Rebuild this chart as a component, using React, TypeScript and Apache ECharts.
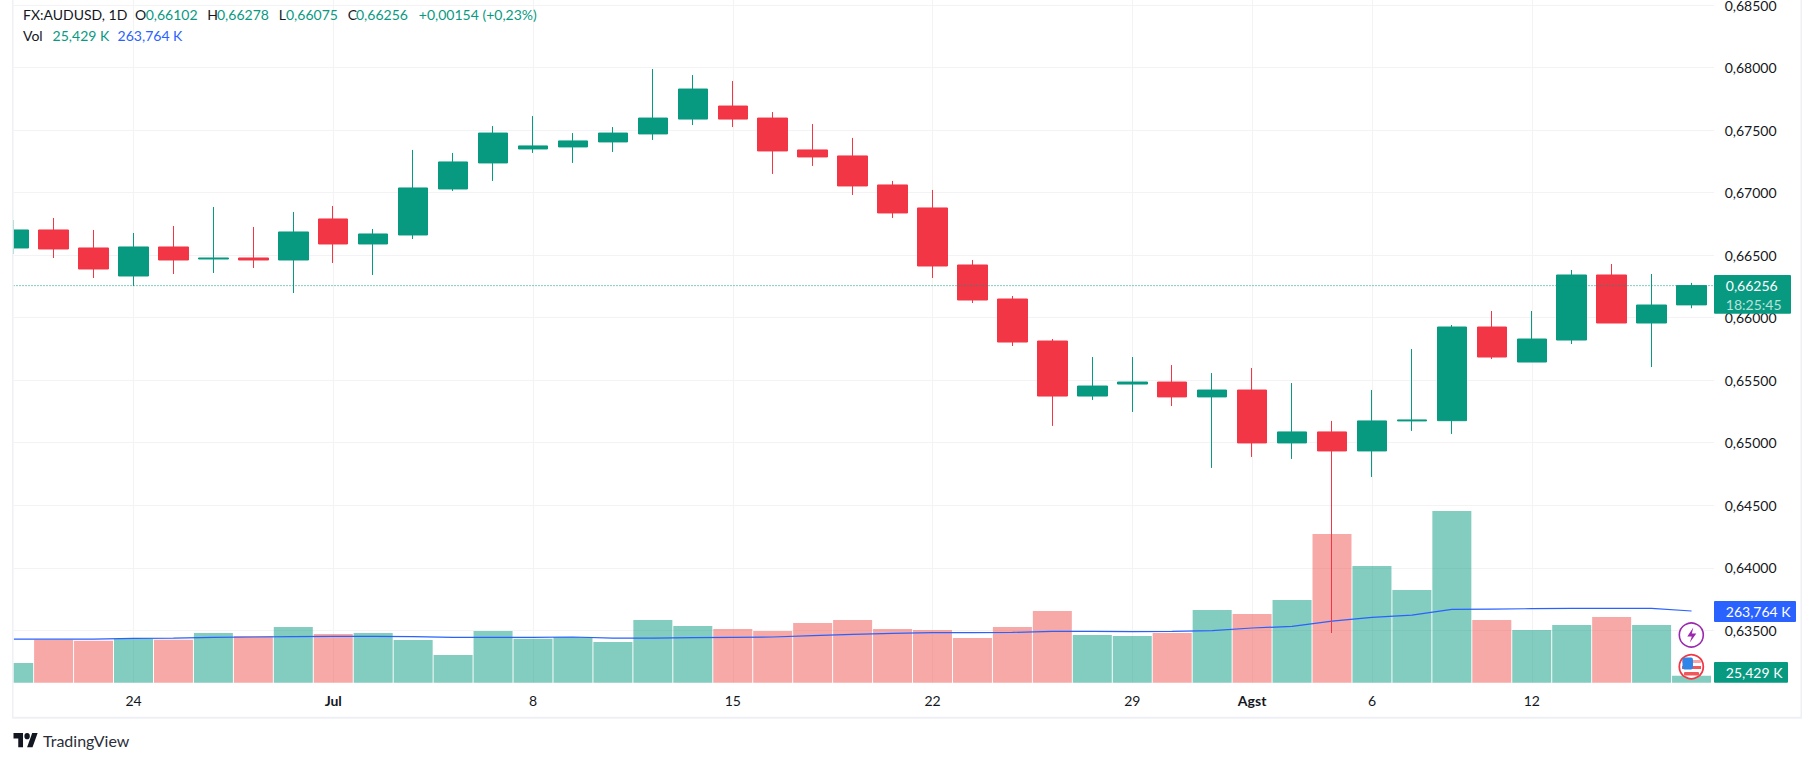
import React, { useEffect, useRef } from "react";
import * as echarts from "echarts";

const categories = [
  "06-19","06-20","06-21","06-24","06-25","06-26","06-27","06-28",
  "07-01","07-02","07-03","07-04","07-05",
  "07-08","07-09","07-10","07-11","07-12",
  "07-15","07-16","07-17","07-18","07-19",
  "07-22","07-23","07-24","07-25","07-26",
  "07-29","07-30","07-31","08-01","08-02",
  "08-05","08-06","08-07","08-08","08-09",
  "08-12","08-13","08-14","08-15","08-16","08-17",
];
const tickLabels: Record<string, string> = {
  "06-24": "24", "07-01": "Jul", "07-08": "8", "07-15": "15", "07-22": "22",
  "07-29": "29", "08-01": "Agst", "08-06": "6", "08-12": "12",
};
const majorTicks = ["Jul", "Agst"];

const opens = [
  0.66557,0.66701,0.66557,0.66333,0.66565,0.66469,0.66477,0.66461,0.66789,0.66589,0.66661,
  0.67029,0.67237,0.67349,0.67365,0.67405,0.67469,0.67588,0.67692,0.67596,0.67341,0.67293,
  0.67061,0.66877,0.66421,0.66149,0.65813,0.65373,0.65469,0.65485,0.65366,0.65421,0.64998,
  0.65086,0.64934,0.65174,0.65176,0.65925,0.65645,0.65821,0.66341,0.65957,0.66102,
];
const closes = [
  0.66701,0.66549,0.66389,0.66565,0.66461,0.66477,0.66461,0.66685,0.66589,0.66669,0.67037,
  0.67245,0.67476,0.67373,0.67413,0.67476,0.67596,0.67828,0.67588,0.67333,0.67285,0.67053,
  0.66837,0.66413,0.66141,0.65805,0.65373,0.65453,0.65485,0.65366,0.65421,0.64998,0.65086,
  0.64934,0.65174,0.65182,0.65925,0.65685,0.65829,0.66341,0.65957,0.66101,0.66256,
];
const lows = [
  0.66509,0.66477,0.66317,0.66253,0.66349,0.66357,0.66397,0.66197,0.66437,0.66341,0.66629,
  0.67013,0.67093,0.67317,0.67237,0.67325,0.67421,0.6754,0.67524,0.67149,0.67213,0.66981,
  0.66797,0.66317,0.66117,0.65773,0.65134,0.65342,0.65246,0.65293,0.64798,0.64886,0.6487,
  0.63478,0.64726,0.65094,0.6507,0.65669,0.65645,0.65789,0.65957,0.65605,0.66075,
];
const highs = [
  0.66781,0.66797,0.66701,0.66677,0.66733,0.66885,0.66725,0.66845,0.66893,0.66709,0.67341,
  0.67317,0.67532,0.67612,0.67476,0.67524,0.67988,0.6794,0.67892,0.67644,0.67548,0.67437,
  0.67093,0.67021,0.66461,0.66173,0.65829,0.65685,0.65685,0.65621,0.65557,0.65597,0.65477,
  0.65174,0.65421,0.65749,0.65941,0.66053,0.66053,0.66381,0.66429,0.66349,0.66278,
];
const volumes = [
  72.4,158,154.6,162,158,182.8,171.7,204.9,179.1,182.8,157,
  101.8,190.1,161.9,168,149.7,230.6,208.5,197.5,190.1,219.6,230.6,
  197.5,193.8,164.4,204.9,263.7,175.4,171.7,182.8,267.4,252.7,304.2,
  547.1,429.3,341,631.8,230.6,193.8,212.2,241.7,212.2,25.429,
];
const volumeMA = [
  160.7,160.7,160.7,163.2,164.4,166.8,168.1,169.3,170.5,170.5,169.3,
  166.8,166.8,166.8,168.1,164.4,164.4,165.6,166.8,168.1,173,177.9,
  181.6,184,184,185.2,188.9,188.9,187.7,188.9,191.4,201.2,207.3,
  226.9,240.4,249,269.9,271.1,272.3,273.6,273.6,273.6,263.764,
];

const priceMin = 0.635;
const priceMax = 0.685;
const priceInterval = 0.005;
const lastClose = 0.66256;

const legendTitle = "FX:AUDUSD, 1D";
const legendOHLC = [
  ["O", "0,66102"], ["H", "0,66278"], ["L", "0,66075"], ["C", "0,66256"],
];
const legendChange = "+0,00154 (+0,23%)";
const volLabel = "Vol";
const volValue = "25,429 K";
const maValue = "263,764 K";
const countdown = "18:25:45";
const brand = "TradingView";

const GREEN = "#089981";
const RED = "#f23645";
const BLUE = "#2962ff";
const TEXT = "#131722";
const FONT = "Lato";
const GRID = "#f3f3f5";
const FRAME = "#eff0f5";

const TV_LOGO = "M14 22H7V11H0V4h14v18zM28 22h-8l7.5-18h8L28 22zM24 8a4 4 0 1 1-8 0 4 4 0 0 1 8 0z";
const BOLT = "M7 0L1 9h4.5L3.5 15L10 6H5.5z";
echarts.graphic.registerShape("tvlogo", echarts.graphic.extendPath(TV_LOGO, {}) as any);
echarts.graphic.registerShape("bolt", echarts.graphic.extendPath(BOLT, {}) as any);

const txt = (x: number, y: number, text: string, fill: string, fontSize = 14, extra: any = {}) => ({
  type: "text",
  x,
  y,
  z: 100,
  style: { text, fill, font: `${extra.weight || 400} ${fontSize}px ${FONT}`, textVerticalAlign: "middle", textAlign: "left" },
});
const rect = (x: number, y: number, width: number, height: number, fill: string, z = 99, r = 0) => ({
  type: "rect",
  z,
  shape: { x, y, width, height, r },
  style: { fill },
});

export default function App() {
  const ref = useRef<HTMLDivElement>(null);
  useEffect(() => {
    document.documentElement.style.margin = "0";
    document.body.style.margin = "0";
    document.body.style.padding = "0";
    const chart = echarts.init(ref.current!, null, { renderer: "svg" });
    const isUp = (i: number) => closes[i] >= opens[i];
    const isTick = (_: number, v: string) => v in tickLabels;

    const legendX = [[135, 145.7], [207.3, 217], [278.8, 286], [347.8, 356]];
    const graphic: any[] = [
      rect(0, 0, 13.5, 718, "#ffffff", 50),
      rect(12, 0, 1.5, 718, FRAME, 51),
      rect(12, 716.7, 1790, 2, FRAME, 1),
      rect(1800.5, 0, 1.5, 718, FRAME, 1),
      txt(23, 14, legendTitle, TEXT),
      ...legendOHLC.flatMap(([k, v], i) => [
        txt(legendX[i][0], 14, k, TEXT),
        txt(legendX[i][1], 14, v, GREEN),
      ]),
      txt(418.8, 14, legendChange, GREEN),
      txt(23, 35, volLabel, TEXT),
      txt(52.6, 35, volValue, GREEN),
      txt(117.6, 35, maValue, BLUE),
      // last price tag
      rect(1714, 275, 77, 38.7, GREEN, 99, 1),
      txt(1725.8, 285, "0,66256", "#ffffff"),
      txt(1725.8, 304, countdown, "#b9e2da"),
      rect(1714, 601, 82, 21, BLUE, 99, 1),
      txt(1725.8, 611.5, maValue, "#ffffff"),
      rect(1714, 662, 74, 20.7, GREEN, 99, 1),
      txt(1725.8, 672.5, volValue, "#ffffff"),
      // event icons
      { type: "circle", z: 98, shape: { cx: 1691.3, cy: 635, r: 12 }, style: { fill: "#ffffff", stroke: "#9c27b0", lineWidth: 1.6 } },
      { type: "bolt", z: 99, x: 1686.3, y: 627.5, scaleX: 1, scaleY: 1, style: { fill: "#9c27b0" } },
      { type: "circle", z: 98, shape: { cx: 1691.3, cy: 666.7, r: 12 }, style: { fill: "#ffffff", stroke: RED, lineWidth: 1.8 } },
      rect(1682, 660, 19, 3, "#f7a5a5", 99, 1),
      rect(1682, 666, 19, 3, "#f0565a", 99, 0),
      rect(1684, 672, 15, 3.5, "#f0565a", 99, 1),
      rect(1682.5, 657.5, 10.5, 12, "#2f86e8", 99, 2),
      // brand
      { type: "tvlogo", z: 99, x: 13.5, y: 730, scaleX: 0.68, scaleY: 0.78, style: { fill: TEXT } },
      txt(43, 740.5, brand, "#2a2e39", 16),
    ];

    const option: any = {
      animation: false,
      backgroundColor: "#ffffff",
      textStyle: { fontFamily: FONT },
      tooltip: { show: false },
      graphic,
      grid: [
        { left: 13.5, top: 5, width: 1700.5, height: 625.3, outerBoundsMode: "none" },
        { left: 13.65, top: 5, width: 1717.85, height: 687.8, outerBoundsMode: "none" },
        { left: 13.65, top: 0, width: 1717.85, height: 682.7, outerBoundsMode: "none" },
      ],
      xAxis: [
        { gridIndex: 0, type: "category", data: ["start", "end"], boundaryGap: false, show: false },
        { gridIndex: 1, type: "category", data: categories, boundaryGap: false, show: false },
        {
          gridIndex: 2,
          type: "category",
          data: categories,
          boundaryGap: false,
          axisLine: { show: false },
          axisTick: { show: false },
          splitLine: { show: true, interval: isTick, lineStyle: { color: GRID, width: 1 } },
          axisLabel: {
            interval: isTick,
            margin: 11,
            fontFamily: FONT,
            fontSize: 14,
            color: TEXT,
            formatter: (v: string) => {
              const t = tickLabels[v] ?? "";
              return majorTicks.includes(t) ? `{b|${t}}` : t;
            },
            rich: { b: { fontFamily: FONT, fontSize: 14, fontWeight: 700, color: TEXT } },
          },
        },
      ],
      yAxis: [
        {
          gridIndex: 0,
          type: "value",
          position: "right",
          min: priceMin,
          max: priceMax,
          interval: priceInterval,
          axisLine: { show: false },
          axisTick: { show: false },
          splitLine: { show: true, lineStyle: { color: GRID, width: 1 } },
          axisLabel: {
            margin: 10.7,
            fontFamily: FONT,
            fontSize: 14,
            color: TEXT,
            formatter: (v: number) => v.toFixed(5).replace(".", ","),
          },
        },
        { gridIndex: 1, type: "value", min: 0.63, max: priceMax, show: false, splitLine: { show: false } },
        { gridIndex: 2, type: "value", min: 0, max: 2512.3, show: false, splitLine: { show: false } },
      ],
      series: [
        {
          name: "Volume",
          type: "bar",
          xAxisIndex: 2,
          yAxisIndex: 2,
          barWidth: 39,
          z: 2,
          data: volumes.map((v, i) => ({
            value: v,
            itemStyle: { color: isUp(i) ? "rgba(8,153,129,0.5)" : "rgba(239,83,80,0.5)" },
          })),
        },
        {
          name: "Volume MA",
          type: "line",
          xAxisIndex: 2,
          yAxisIndex: 2,
          z: 3,
          symbol: "none",
          lineStyle: { color: BLUE, width: 1.2 },
          data: volumeMA,
        },
        {
          name: "AUDUSD",
          type: "candlestick",
          xAxisIndex: 1,
          yAxisIndex: 1,
          barWidth: 30,
          z: 4,
          itemStyle: { color: GREEN, color0: RED, borderColor: GREEN, borderColor0: RED, borderWidth: 1 },
          data: opens.map((o, i) => [o, closes[i], lows[i], highs[i]]),
        },
        {
          name: "Last price",
          type: "line",
          xAxisIndex: 0,
          yAxisIndex: 0,
          z: 5,
          symbol: "none",
          lineStyle: { color: GREEN, width: 1, type: [1, 2] },
          data: [lastClose, lastClose],
        },
      ],
    };
    chart.setOption(option);
    return () => chart.dispose();
  }, []);
  return <div ref={ref} style={{ position: "absolute", left: 0, top: 0, width: 1814, height: 762 }} />;
}
